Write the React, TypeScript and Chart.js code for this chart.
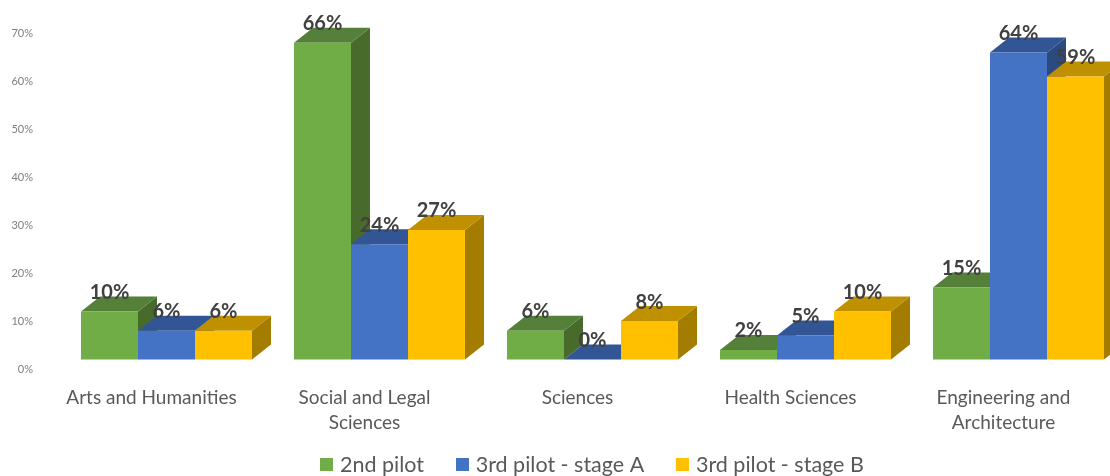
import React, { useEffect, useRef } from "react";
import { Chart, registerables } from "chart.js";

Chart.register(...registerables);

const categories = [
  "Arts and Humanities",
  ["Social and Legal", "Sciences"],
  "Sciences",
  "Health Sciences",
  ["Engineering and", "Architecture"],
];
const secondPilot = [10, 66, 6, 2, 15];
const thirdPilotA = [6, 24, 0, 5, 64];
const thirdPilotB = [6, 27, 8, 10, 59];

const frontColors = ["#70AD47", "#4472C4", "#FFC000"];
const topColors = ["#55803A", "#325595", "#BF9000"];
const sideColors = ["#486B2B", "#2B4A80", "#A47C00"];
const DEPTH_X = 19;
const DEPTH_Y = 15;

const swatch = (color: string) => {
  const c = document.createElement("canvas");
  c.width = 13;
  c.height = 13;
  const g = c.getContext("2d")!;
  g.fillStyle = color;
  g.fillRect(0, 0, 13, 13);
  return c;
};

const legendPlace = {
  id: "legendPlace",
  afterLayout(chart: any) {
    const lg = chart.legend;
    const w = lg.right - lg.left;
    lg.left = 594 - w / 2;
    lg.right = lg.left + w;
    lg.top = 418;
  },
};

const bars3d = {
  id: "bars3d",
  beforeDatasetsDraw(chart: any) {
    const { ctx } = chart;
    const poly = (pts: number[][], fill: string) => {
      ctx.fillStyle = fill;
      ctx.beginPath();
      pts.forEach(([x, y], i) => (i ? ctx.lineTo(x, y) : ctx.moveTo(x, y)));
      ctx.closePath();
      ctx.fill();
    };
    ctx.save();
    categories.forEach((_, c) => {
      chart.data.datasets.forEach((_d: any, i: number) => {
        const bar = chart.getDatasetMeta(i).data[c] as any;
        const l = bar.x - bar.width / 2;
        const r = bar.x + bar.width / 2;
        const t = bar.y;
        const b = bar.base;
        poly([[r, t], [r + DEPTH_X, t - DEPTH_Y], [r + DEPTH_X, b - DEPTH_Y], [r, b]], sideColors[i]);
        poly([[l, t], [l + DEPTH_X, t - DEPTH_Y], [r + DEPTH_X, t - DEPTH_Y], [r, t]], topColors[i]);
      });
    });
    ctx.restore();
  },
  afterDatasetsDraw(chart: any) {
    const { ctx } = chart;
    ctx.save();
    ctx.font = "bold 20px Lato";
    ctx.fillStyle = "#404040";
    ctx.textAlign = "center";
    ctx.textBaseline = "middle";
    chart.data.datasets.forEach((d: any, i: number) => {
      chart.getDatasetMeta(i).data.forEach((bar: any, c: number) => {
        ctx.fillText(`${d.data[c]}%`, bar.x, bar.y - 19);
      });
    });
    ctx.restore();
  },
};

export default function App() {
  const ref = useRef<HTMLCanvasElement>(null);
  useEffect(() => {
    const mk = (label: string, data: number[], i: number) => ({
      label,
      data,
      yAxisID: "yBars",
      backgroundColor: frontColors[i],
      borderWidth: 0,
      barPercentage: 1,
      categoryPercentage: 171 / 213,
    });
    const chart = new Chart(ref.current!, {
      type: "bar",
      data: {
        labels: categories as any,
        datasets: [
          mk("2nd pilot", secondPilot, 0),
          mk("3rd pilot - stage A", thirdPilotA, 1),
          mk("3rd pilot - stage B", thirdPilotB, 2),
        ],
      },
      plugins: [bars3d, legendPlace],
      options: {
        animation: false,
        responsive: false,
        devicePixelRatio: 1,
        layout: { padding: { top: 33, right: 60, left: 0, bottom: 0 } },
        plugins: {
          tooltip: { enabled: false },
          legend: {
            position: "bottom",
            onClick: () => {},
            labels: {
              usePointStyle: true,
              boxWidth: 5,
              boxHeight: 12,
              padding: 36,
              color: "#595959",
              font: { family: "Lato", size: 21.5 },
              generateLabels: (c: any) =>
                Chart.defaults.plugins.legend.labels.generateLabels(c).map((it: any, i: number) => ({
                  ...it,
                  pointStyle: swatch(frontColors[i]),
                })),
            },
          },
        },
        scales: {
          x: {
            grid: { display: false },
            border: { display: false },
            afterFit: (s: any) => { s.height = 70; },
            ticks: {
              color: "#595959",
              font: { family: "Lato", size: 19, lineHeight: 25 / 19 },
              padding: 8,
              labelOffset: -15,
              maxRotation: 0,
              minRotation: 0,
              autoSkip: false,
            },
          },
          y: {
            min: 0,
            max: 70,
            grid: { display: false, drawTicks: false },
            border: { display: false },
            afterFit: (s: any) => { s.width = 60; },
            ticks: {
              stepSize: 10,
              padding: 27,
              color: "#7F7F7F",
              font: { family: "Lato", size: 11 },
              callback: (v: any) => `${v}%`,
            },
          },
          yBars: {
            display: false,
            min: -10 / 4.8,
            max: 70 - 10 / 4.8,
          },
        },
      } as any,
    });
    return () => chart.destroy();
  }, []);
  return (
    <div style={{ position: "fixed", left: 0, top: 0, width: 1110, height: 476, overflow: "hidden", background: "#fff" }}>
      <canvas ref={ref} width={1185} height={507} style={{ display: "block" }} />
    </div>
  );
}
